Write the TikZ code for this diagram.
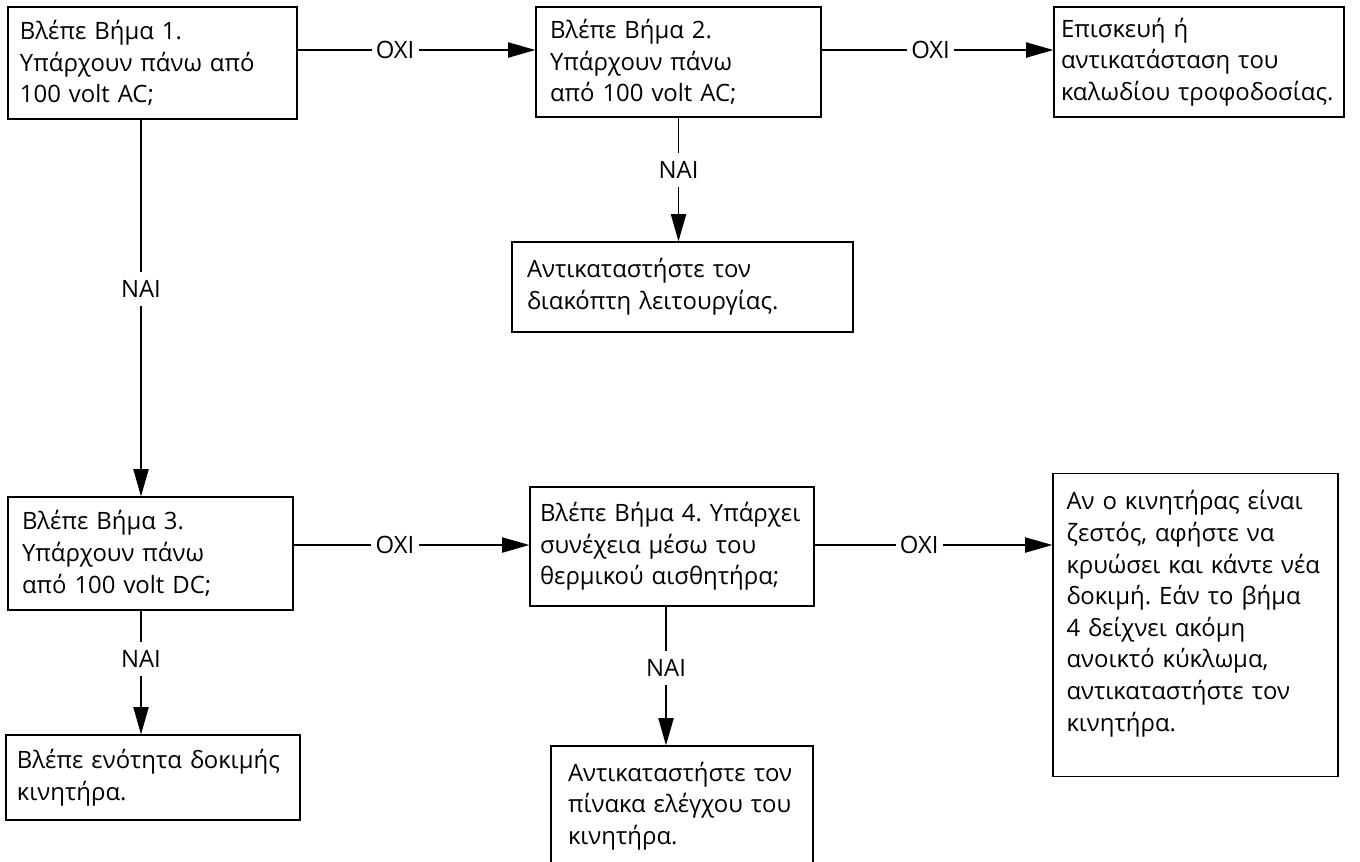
\documentclass[tikz,border=0pt]{standalone}
\usepackage{fontspec}
\setmainfont{Open Sans}
\usepackage{tikz}
\usetikzlibrary{arrows.meta}
\newcommand{\spreadline}[1]{\makebox[\linewidth][s]{#1}}
\frenchspacing

\begin{document}
\begin{tikzpicture}[>={Triangle[length=0.68cm,width=0.38cm]},
  font=\fontsize{17}{22.5}\selectfont,
  stepbox/.style={draw,line width=0.95pt,align=left,inner xsep=0.35cm,inner ysep=0pt},
  lbl/.style={fill=white,inner xsep=3pt,inner ysep=6pt},
  flow/.style={->,line width=0.95pt}]
\useasboundingbox (0,0) rectangle (34,-21.525);
\coordinate (rowA) at (0,-1.25);
\coordinate (rowB) at (0,-13.625);
\coordinate (colA) at (3.525,0);
\coordinate (colB) at (16.65,0);
\node[stepbox,text width=6.625cm,inner xsep=0.3cm,minimum height=2.8cm] (step1) at (3.8125,-1.575) {Βλέπε Βήμα 1.\\Υπάρχουν πάνω από\\100 volt AC;};
\node[stepbox,text width=6.425cm,minimum height=2.75cm] (step2) at (16.9625,-1.55) {Βλέπε Βήμα 2.\\Υπάρχουν πάνω\\από 100 volt AC;};
\node[stepbox,text width=6.9cm,inner xsep=0.175cm,minimum height=2.75cm] (cable) at (29.975,-1.55) {Επισκευή ή\\αντικατάσταση του\\καλωδίου τροφοδοσίας.};
\node[stepbox,text width=7.775cm,inner xsep=0.375cm,minimum height=2.25cm] (switch) at (17.0625,-7.175) {Αντικαταστήστε τον\\διακόπτη λειτουργίας.};
\node[stepbox,text width=6.425cm,minimum height=2.825cm] (step3) at (3.7625,-13.8375) {Βλέπε Βήμα 3.\\Υπάρχουν πάνω\\από 100 volt DC;};
\node[stepbox,text width=6.6cm,inner xsep=0.25cm,minimum height=2.975cm] (step4) at (16.8,-13.6625) {\spreadline{Βλέπε Βήμα 4. Υπάρχει}\\\spreadline{συνέχεια μέσω του}\\θερμικού αισθητήρα;};
\node[stepbox,anchor=north,text width=6.45cm,inner xsep=0.3375cm,inner ysep=0.42cm,text depth=6.25cm] (hot) at (29.8875,-11.825) {Αν ο κινητήρας είναι\\ζεστός, αφήστε να\\κρυώσει και κάντε νέα\\δοκιμή. Εάν το βήμα\\4 δείχνει ακόμη\\ανοικτό κύκλωμα,\\αντικαταστήστε τον\\κινητήρα.};
\node[stepbox,text width=6.8cm,inner xsep=0.275cm,minimum height=2.125cm] (motor) at (3.825,-19.4375) {Βλέπε ενότητα δοκιμής\\κινητήρα.};
\node[stepbox,text width=5.7cm,inner xsep=0.425cm,minimum height=3cm] (board) at (17.05,-20.15) {\spreadline{Αντικαταστήστε τον}\\\spreadline{πίνακα ελέγχου του}\\κινητήρα.};
\draw[flow] (step1.east |- rowA) -- (step2.west |- rowA) node[lbl,pos=0.41] {ΟΧΙ};
\draw[flow] (step2.east |- rowA) -- (cable.west |- rowA) node[lbl,pos=0.47] {ΟΧΙ};
\draw[flow] (step2.south) -- (switch.north -| step2.south) node[lbl,pos=0.42] {ΝΑΙ};
\draw[flow] (step1.south -| colA) -- (step3.north -| colA) node[lbl,pos=0.45] {ΝΑΙ};
\draw[flow] (step3.east |- rowB) -- (step4.west |- rowB) node[lbl,pos=0.43] {ΟΧΙ};
\draw[flow] (step4.east |- rowB) -- (hot.west |- rowB) node[lbl,pos=0.44] {ΟΧΙ};
\draw[flow] (step3.south -| colA) -- (motor.north -| colA) node[lbl,pos=0.39] {ΝΑΙ};
\draw[flow] (step4.south -| colB) -- (board.north -| colB) node[lbl,pos=0.44] {ΝΑΙ};
\end{tikzpicture}
\end{document}
